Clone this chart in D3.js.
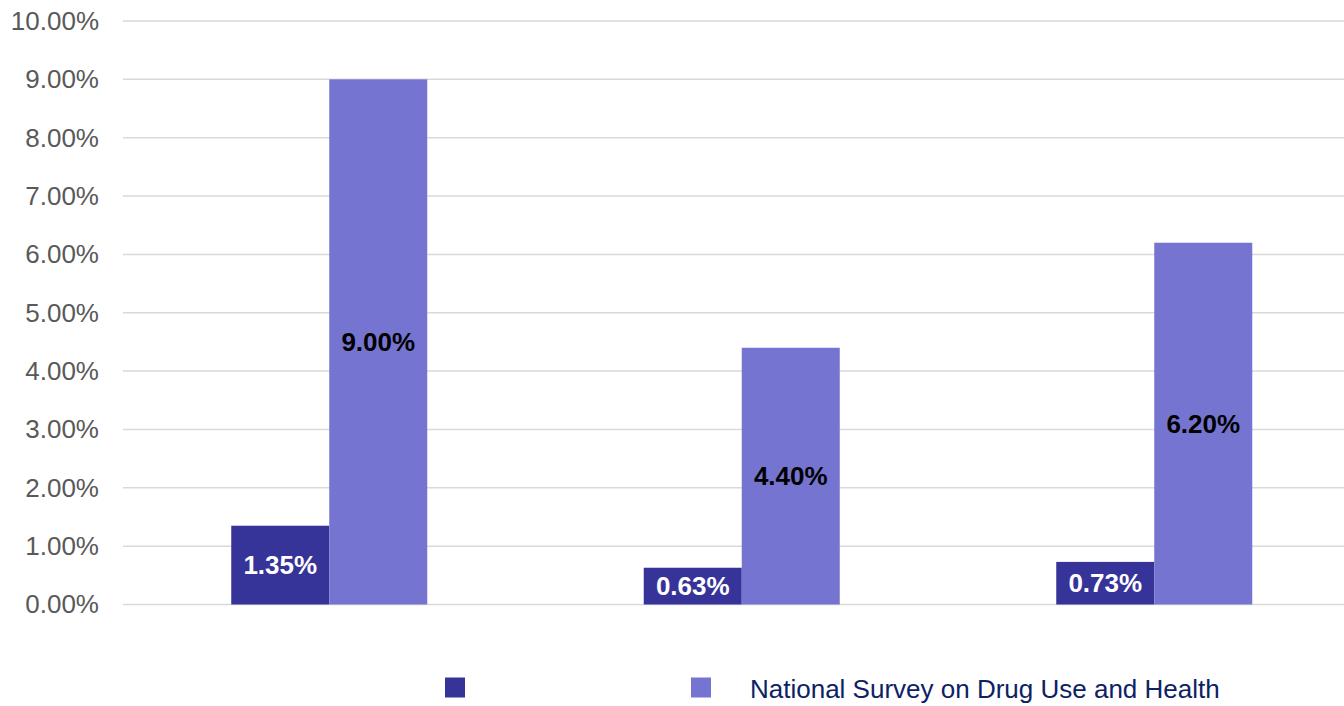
<!DOCTYPE html>
<html>
<head>
<meta charset="utf-8">
<script src="https://cdn.jsdelivr.net/npm/d3@7"></script>
<style>
  html, body { margin: 0; padding: 0; background: #fff; }
  svg { display: block; font-family: "Liberation Sans", Arial, sans-serif; }
</style>
</head>
<body>
<svg id="chart" width="1344" height="706"></svg>
<script>
// Three groups, two series each (percent values)
const categories = ["A", "B", "C"];
const seriesNames = ["", "National Survey on Drug Use and Health"];
const seriesA = [1.35, 0.63, 0.73];
const seriesB = [9.00, 4.40, 6.20];
const yTicks = [0, 1, 2, 3, 4, 5, 6, 7, 8, 9, 10];
const colors = ["#363399", "#7574d0"];
const labelColors = ["#ffffff", "#000000"];

const svg = d3.select("#chart");
const W = 1344;
const plotLeft = 123, plotTop = 21, plotBottom = 604.5;
const fontSize = 26;

const y = d3.scaleLinear().domain([0, 10]).range([plotBottom, plotTop]);
const x0 = d3.scaleBand().domain(categories).range([plotLeft, plotLeft + 1237.5]).paddingInner(0).paddingOuter(0);
const groupW = 196;
const x1 = d3.scaleBand().domain([0, 1]).range([0, groupW]).padding(0);

// Horizontal gridlines
svg.append("g").selectAll("line").data(yTicks).join("line")
  .attr("x1", plotLeft).attr("x2", W)
  .attr("y1", d => y(d)).attr("y2", d => y(d))
  .attr("stroke", "#d9d9d9").attr("stroke-width", 1.5);

// Y axis tick labels
const yAxis = d3.axisLeft(y).tickValues(yTicks).tickSize(0).tickPadding(0)
  .tickFormat(d => d.toFixed(2) + "%");
const ga = svg.append("g").attr("transform", `translate(${plotLeft - 24},0)`).call(yAxis);
ga.select(".domain").remove();
ga.selectAll("text").attr("fill", "#595959").attr("font-size", fontSize)
  .attr("font-family", "Liberation Sans, Arial, sans-serif");

const series = [seriesA, seriesB];
const rows = [];
categories.forEach((c, i) => series.forEach((s, k) => rows.push({ c, k, v: s[i] })));

const gx = d => x0(d.c) + (x0.bandwidth() - groupW) / 2 + x1(d.k);

svg.append("g").selectAll("rect").data(rows).join("rect")
  .attr("x", gx)
  .attr("y", d => y(d.v))
  .attr("width", x1.bandwidth())
  .attr("height", d => y(0) - y(d.v))
  .attr("fill", d => colors[d.k]);

svg.append("g").selectAll("text").data(rows).join("text")
  .attr("x", d => gx(d) + x1.bandwidth() / 2)
  .attr("y", d => (y(d.v) + y(0)) / 2)
  .attr("dy", "0.35em")
  .attr("text-anchor", "middle")
  .attr("font-size", fontSize)
  .attr("font-weight", "bold")
  .attr("fill", d => labelColors[d.k])
  .text(d => d.v.toFixed(2) + "%");

// Legend
const legendX = [445, 691];
const lg = svg.append("g");
seriesNames.forEach((name, k) => {
  lg.append("rect").attr("x", legendX[k]).attr("y", 677.5).attr("width", 20).attr("height", 20)
    .attr("fill", colors[k]);
  lg.append("text").attr("x", legendX[k] + 59).attr("y", 698)
    .attr("font-size", fontSize).attr("fill", "#0c2264")
    .text(name);
});
</script>
</body>
</html>
